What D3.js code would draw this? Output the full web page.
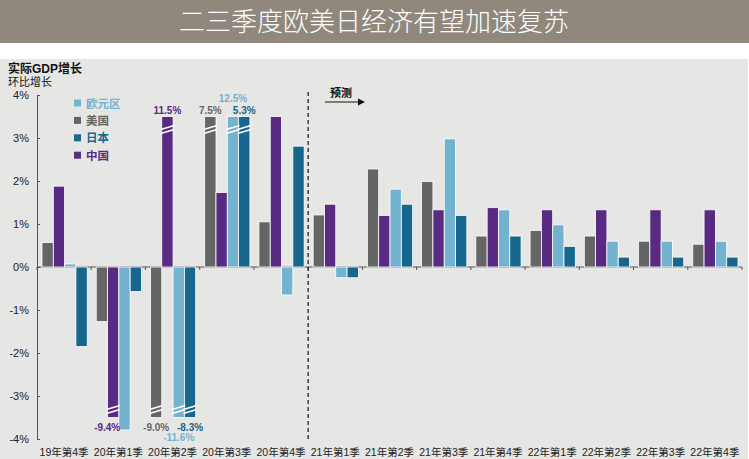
<html>
<head>
<meta charset="utf-8">
<script src='https://d3js.org/d3.v7.min.js'></script>
<style>
  body { margin:0; background:#fff; font-family:"Liberation Sans","Noto Sans CJK SC",sans-serif; }
  svg text { font-family:"Liberation Sans","Noto Sans CJK SC",sans-serif; }
</style>
</head>
<body>
<svg width="749" height="459"></svg>
<script>
// data
var quarters = ['19年第4季','20年第1季','20年第2季','20年第3季','20年第4季',
                '21年第1季','21年第2季','21年第3季','21年第4季',
                '22年第1季','22年第2季','22年第3季','22年第4季'];
var us    = [0.57, -1.27, -9.0, 7.5, 1.05, 1.21, 2.28, 1.99, 0.72, 0.85, 0.72, 0.6, 0.53];
var china = [1.88, -9.4, 11.5, 1.73, 3.5, 1.46, 1.2, 1.33, 1.38, 1.33, 1.33, 1.33, 1.33];
var euro  = [0.07, -3.79, -11.6, 12.5, -0.65, -0.25, 1.81, 2.98, 1.33, 0.98, 0.6, 0.6, 0.6];
var japan = [-1.85, -0.57, -8.3, 5.3, 2.81, -0.25, 1.46, 1.2, 0.72, 0.48, 0.23, 0.23, 0.23];
var yTicks = [4, 3, 2, 1, 0, -1, -2, -3, -4];
var forecastFrom = '21年第1季';
var cap = 3.5;      // drawn length of a broken bar
var breakAt = 4;    // values beyond this get a break mark and label

var series = [
  {key:'美国',   vals:us,    color:'#656565'},
  {key:'中国',   vals:china, color:'#582a82'},
  {key:'欧元区', vals:euro,  color:'#73b3d0'},
  {key:'日本',   vals:japan, color:'#17668d'}
];
var legendOrder = ['欧元区','美国','日本','中国'];

var svg = d3.select('svg');

// header
svg.append('rect').attr('x',0).attr('y',0).attr('width',749).attr('height',43).attr('fill','#90887c');
svg.append('text').attr('x',374).attr('y',31).attr('text-anchor','middle')
   .attr('fill','#fff').style('font-size','26px').style('font-weight',300)
   .style('font-family','"Noto Sans CJK SC"')
   .text('二三季度欧美日经济有望加速复苏');
svg.append('rect').attr('x',0).attr('y',59).attr('width',748).attr('height',400).attr('fill','#e6e6e4');

svg.append('text').attr('x',8).attr('y',73).style('font-size','12px').style('font-weight','bold')
   .attr('fill','#111').text('实际GDP增长');
svg.append('text').attr('x',8).attr('y',86).style('font-size','11px')
   .attr('fill','#111').text('环比增长');

var x0 = d3.scaleBand().domain(quarters).range([37, 742]).padding(0);
var x1 = d3.scaleBand().domain(series.map(function(s){ return s.key; }))
           .range([5, x0.bandwidth() - 4]).padding(0);
var y = d3.scaleLinear().domain([-4, 4]).range([439, 95]);

// axes
var yAxis = d3.axisLeft(y).tickValues(yTicks).tickSize(-3).tickPadding(8)
              .tickFormat(function(d){ return d + '%'; });
var gy = svg.append('g').attr('transform','translate(37,0)').call(yAxis);
gy.select('.domain').attr('stroke','#555');
gy.selectAll('.tick line').attr('stroke','#555');
gy.selectAll('.tick text').style('font-size','11px').attr('fill','#222');

var gx = svg.append('g').attr('transform','translate(0,' + y(0) + ')');
gx.append('line').attr('x1',37).attr('x2',742).attr('stroke','#555');
gx.selectAll('.xt').data(quarters.concat(['end'])).enter().append('line')
  .attr('x1', function(d, i){ return 37 + i * x0.bandwidth(); })
  .attr('x2', function(d, i){ return 37 + i * x0.bandwidth(); })
  .attr('y1', 0).attr('y2', 3).attr('stroke','#555');

svg.selectAll('.xl').data(quarters).enter().append('text')
   .attr('x', function(d){ return x0(d) + x0.bandwidth()/2; })
   .attr('y', 456).attr('text-anchor','middle')
   .style('font-size','10.5px').attr('fill','#222').text(function(d){ return d; });

// bars
var rows = [];
series.forEach(function(s){
  s.vals.forEach(function(v, i){
    rows.push({key:s.key, q:quarters[i], v:v, color:s.color});
  });
});
function shown(v){ return Math.abs(v) > breakAt ? (v > 0 ? cap : -cap) : v; }

svg.append('g').selectAll('rect').data(rows).enter().append('rect')
   .attr('x', function(d){ return x0(d.q) + x1(d.key); })
   .attr('width', x1.bandwidth())
   .attr('y', function(d){ return y(Math.max(0, shown(d.v))); })
   .attr('height', function(d){ return Math.abs(y(shown(d.v)) - y(0)); })
   .attr('fill', function(d){ return d.color; })
   .attr('stroke','#fff').attr('stroke-width',0.8);

// break marks on clipped bars
var broken = rows.filter(function(d){ return Math.abs(d.v) > breakAt; });
var bk = svg.append('g');
broken.forEach(function(d){
  var bx = x0(d.q) + x1(d.key);
  var by = d.v > 0 ? y(cap) + 11 : y(-cap) - 10;
  [0, 4].forEach(function(off){
    bk.append('line')
      .attr('x1', bx - 1).attr('x2', bx + x1.bandwidth() + 1)
      .attr('y1', by + off + 2).attr('y2', by + off - 2)
      .attr('stroke','#fff').attr('stroke-width',1.6);
  });
});

// value labels for clipped bars
broken.forEach(function(d){
  var cx = x0(d.q) + x1(d.key) + x1.bandwidth()/2;
  var ty;
  if (d.v > 0) ty = d.key === '欧元区' ? 102 : 114;
  else ty = d.key === '欧元区' ? 441 : 431;
  if (d.key === '中国' && d.v < 0) cx -= 6;
  svg.append('text').attr('x', cx).attr('y', ty).attr('text-anchor','middle')
     .style('font-size','10px').style('font-weight','bold')
     .attr('fill', d.color).text(d.v.toFixed(1) + '%');
});

// forecast divider
var fx = x0(forecastFrom);
svg.append('line').attr('x1',fx).attr('x2',fx).attr('y1',92).attr('y2',442)
   .attr('stroke','#111').attr('stroke-width',1.2).attr('stroke-dasharray','4,3');
svg.append('text').attr('x',341).attr('y',97).attr('text-anchor','middle')
   .style('font-size','11px').style('font-weight','bold').attr('fill','#111').text('预测');
svg.append('line').attr('x1',325).attr('x2',359).attr('y1',102).attr('y2',102)
   .attr('stroke','#111').attr('stroke-width',1.2);
svg.append('path').attr('d','M358,98.5 L365,102 L358,105.5 Z').attr('fill','#111');

// legend
var lg = svg.append('g').selectAll('g').data(legendOrder).enter().append('g')
   .attr('transform', function(d, i){ return 'translate(74,' + (103 + i * 17.4) + ')'; });
lg.append('rect').attr('x',0).attr('y',-3.5).attr('width',7).attr('height',7)
  .attr('fill', function(d){ return series.find(function(s){ return s.key === d; }).color; });
lg.append('text').attr('x',12).attr('y',4.5).style('font-size','11.5px').style('font-weight','bold')
  .attr('fill', function(d){ return series.find(function(s){ return s.key === d; }).color; })
  .text(function(d){ return d; });
</script>
</body>
</html>
